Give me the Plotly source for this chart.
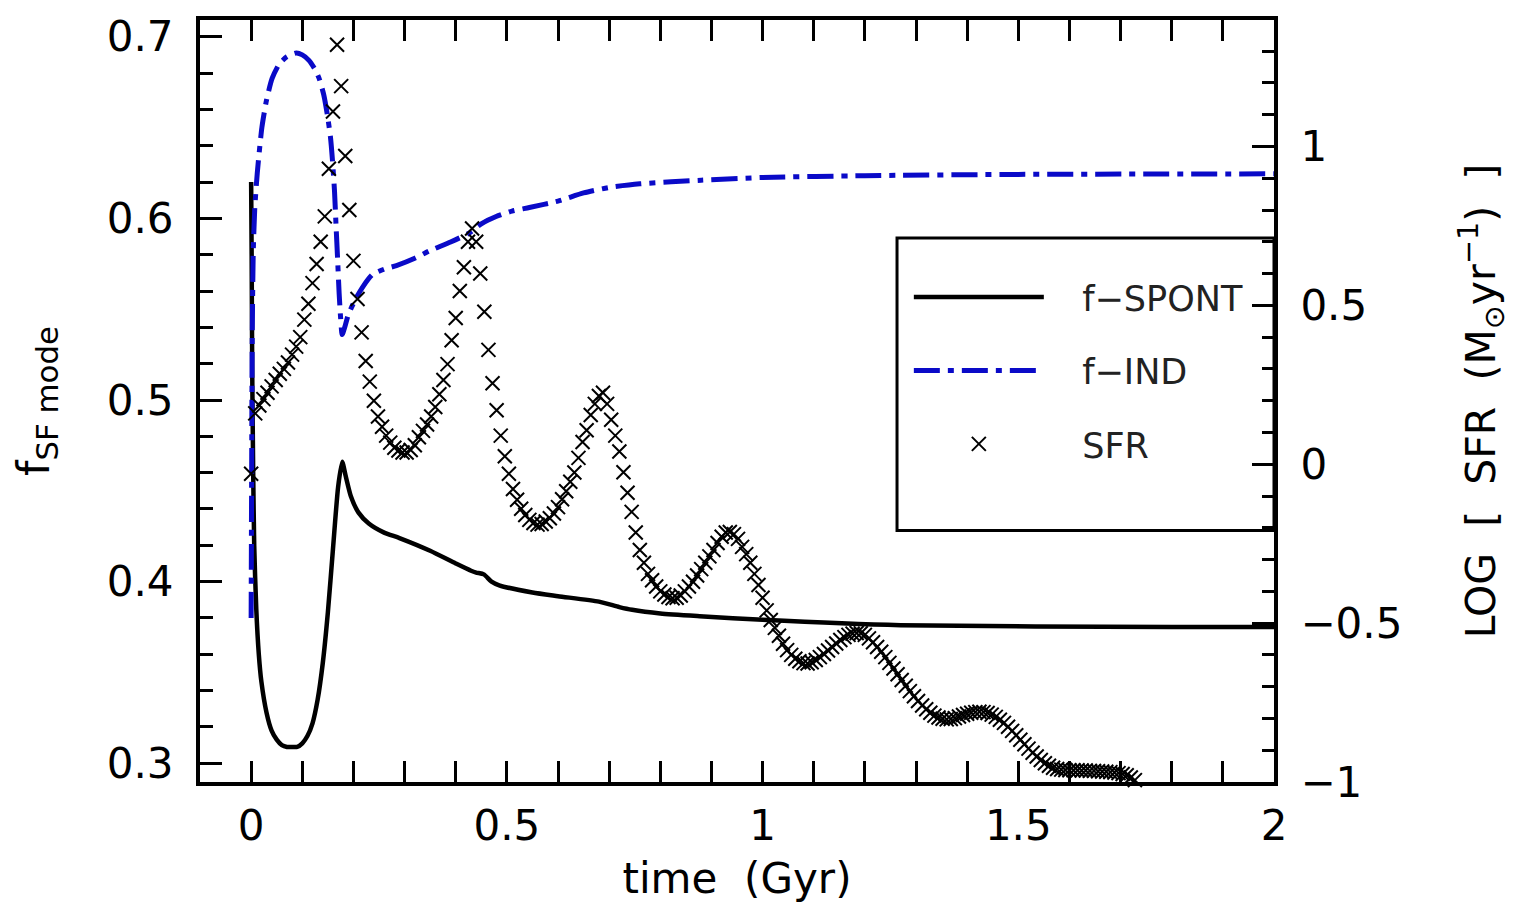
import plotly.graph_objects as go

# ---------------- data ----------------
spont_time = [0.000, 0.001, 0.002, 0.004, 0.006, 0.010, 0.015, 0.020, 0.030, 0.040,
              0.050, 0.060, 0.070, 0.080, 0.090, 0.100, 0.110, 0.120, 0.130, 0.140,
              0.150, 0.160, 0.170, 0.178, 0.185, 0.195, 0.210, 0.230, 0.260, 0.290,
              0.350, 0.400, 0.430, 0.440, 0.455, 0.470, 0.485, 0.550, 0.600, 0.680,
              0.720, 0.745, 0.800, 0.877, 1.000, 1.270, 1.800, 2.000]
spont_frac = [0.620, 0.580, 0.520, 0.460, 0.420, 0.385, 0.360, 0.345, 0.328, 0.318,
              0.313, 0.310, 0.309, 0.309, 0.309, 0.311, 0.315, 0.322, 0.335, 0.355,
              0.383, 0.418, 0.452, 0.466, 0.458, 0.447, 0.438, 0.432, 0.427, 0.424,
              0.417, 0.410, 0.406, 0.405, 0.404, 0.400, 0.398, 0.394, 0.392, 0.389,
              0.386, 0.3845, 0.3825, 0.381, 0.379, 0.376, 0.375, 0.375]

ind_time = [0.000, 0.001, 0.002, 0.004, 0.007, 0.012, 0.021, 0.030, 0.041, 0.055,
            0.070, 0.088, 0.100, 0.113, 0.125, 0.133, 0.142, 0.149, 0.155, 0.159,
            0.163, 0.166, 0.169, 0.172, 0.175, 0.178, 0.183, 0.190, 0.205, 0.220,
            0.237, 0.260, 0.284, 0.320, 0.348, 0.390, 0.427, 0.450, 0.479, 0.510,
            0.544, 0.600, 0.650, 0.700, 0.760, 0.880, 1.000, 1.200, 1.500, 2.000]
ind_frac = [0.380, 0.460, 0.530, 0.580, 0.605, 0.625, 0.650, 0.665, 0.677, 0.685,
            0.689, 0.691, 0.690, 0.687, 0.682, 0.677, 0.668, 0.657, 0.645, 0.632,
            0.615, 0.596, 0.578, 0.559, 0.545, 0.536, 0.540, 0.547, 0.556, 0.563,
            0.569, 0.572, 0.574, 0.578, 0.582, 0.587, 0.592, 0.597, 0.601, 0.604,
            0.606, 0.6095, 0.614, 0.617, 0.619, 0.621, 0.6225, 0.6235, 0.6242, 0.6245]

sfr_time = [
    0.000, 0.008, 0.016, 0.024, 0.032, 0.040, 0.048, 0.056, 0.064, 0.072,
    0.080, 0.088, 0.096, 0.104, 0.112, 0.120, 0.128, 0.136, 0.144, 0.152,
    0.160, 0.168, 0.176, 0.184, 0.192, 0.200, 0.208, 0.216, 0.224, 0.232,
    0.240, 0.248, 0.256, 0.264, 0.272, 0.280, 0.288, 0.296, 0.304, 0.312,
    0.320, 0.328, 0.336, 0.344, 0.352, 0.360, 0.368, 0.376, 0.384, 0.392,
    0.400, 0.408, 0.416, 0.424, 0.432, 0.440, 0.448, 0.456, 0.464, 0.472,
    0.480, 0.488, 0.496, 0.504, 0.512, 0.520, 0.528, 0.536, 0.544, 0.552,
    0.560, 0.568, 0.576, 0.584, 0.592, 0.600, 0.608, 0.616, 0.624, 0.632,
    0.640, 0.648, 0.656, 0.664, 0.672, 0.680, 0.688, 0.696, 0.704, 0.712,
    0.720, 0.728, 0.736, 0.744, 0.752, 0.760, 0.768, 0.776, 0.784, 0.792,
    0.800, 0.808, 0.816, 0.824, 0.832, 0.840, 0.848, 0.856, 0.864, 0.872,
    0.880, 0.888, 0.896, 0.904, 0.912, 0.920, 0.928, 0.936, 0.944, 0.952,
    0.960, 0.968, 0.976, 0.984, 0.992, 1.000, 1.008, 1.016, 1.024, 1.032,
    1.040, 1.048, 1.056, 1.064, 1.072, 1.080, 1.088, 1.096, 1.104, 1.112,
    1.120, 1.128, 1.136, 1.144, 1.152, 1.160, 1.168, 1.176, 1.184, 1.192,
    1.200, 1.208, 1.216, 1.224, 1.232, 1.240, 1.248, 1.256, 1.264, 1.272,
    1.280, 1.288, 1.296, 1.304, 1.312, 1.320, 1.328, 1.336, 1.344, 1.352,
    1.360, 1.368, 1.376, 1.384, 1.392, 1.400, 1.408, 1.416, 1.424, 1.432,
    1.440, 1.448, 1.456, 1.464, 1.472, 1.480, 1.488, 1.496, 1.504, 1.512,
    1.520, 1.528, 1.536, 1.544, 1.552, 1.560, 1.568, 1.576, 1.584, 1.592,
    1.600, 1.608, 1.616, 1.624, 1.632, 1.640, 1.648, 1.656, 1.664, 1.672,
    1.680, 1.688, 1.696, 1.704, 1.712, 1.720, 1.728, 1.736]
sfr_log = [
    -0.030, 0.160, 0.185, 0.205, 0.225, 0.245, 0.265, 0.285, 0.300, 0.320,
    0.345, 0.370, 0.400, 0.455, 0.505, 0.570, 0.630, 0.700, 0.780, 0.930,
    1.110, 1.320, 1.190, 0.970, 0.800, 0.640, 0.520, 0.415, 0.325, 0.260,
    0.200, 0.150, 0.118, 0.090, 0.068, 0.052, 0.043, 0.037, 0.037, 0.045,
    0.060, 0.085, 0.105, 0.125, 0.150, 0.180, 0.220, 0.265, 0.315, 0.390,
    0.460, 0.545, 0.620, 0.700, 0.742, 0.700, 0.600, 0.480, 0.360, 0.255,
    0.170, 0.090, 0.025, -0.030, -0.078, -0.112, -0.140, -0.160, -0.175, -0.185,
    -0.190, -0.188, -0.180, -0.170, -0.155, -0.135, -0.110, -0.085, -0.055, -0.026,
    0.020, 0.070, 0.107, 0.155, 0.190, 0.215, 0.225, 0.190, 0.140, 0.090,
    0.040, -0.025, -0.090, -0.150, -0.215, -0.270, -0.310, -0.345, -0.365, -0.385,
    -0.400, -0.410, -0.418, -0.422, -0.420, -0.413, -0.400, -0.385, -0.370, -0.350,
    -0.330, -0.310, -0.290, -0.270, -0.248, -0.228, -0.215, -0.213, -0.220, -0.235,
    -0.260, -0.283, -0.310, -0.345, -0.380, -0.420, -0.460, -0.490, -0.515, -0.540,
    -0.565, -0.585, -0.600, -0.612, -0.620, -0.626, -0.627, -0.623, -0.616, -0.607,
    -0.597, -0.586, -0.575, -0.564, -0.553, -0.544, -0.537, -0.533, -0.531, -0.532,
    -0.537, -0.548, -0.560, -0.575, -0.590, -0.607, -0.625, -0.643, -0.661, -0.679,
    -0.697, -0.714, -0.730, -0.745, -0.759, -0.771, -0.782, -0.791, -0.797, -0.801,
    -0.803, -0.802, -0.799, -0.794, -0.789, -0.785, -0.782, -0.780, -0.779, -0.780,
    -0.783, -0.788, -0.795, -0.804, -0.814, -0.826, -0.839, -0.853, -0.867, -0.881,
    -0.895, -0.908, -0.920, -0.931, -0.941, -0.949, -0.955, -0.959, -0.961, -0.962,
    -0.963, -0.963, -0.963, -0.964, -0.964, -0.965, -0.965, -0.966, -0.967, -0.968,
    -0.969, -0.970, -0.972, -0.975, -0.979, -0.986, -0.994, -1.004]

x_ticks = [0, 0.5, 1, 1.5, 2]
left_ticks = [0.3, 0.4, 0.5, 0.6, 0.7]
right_ticks = [-1, -0.5, 0, 0.5, 1]

# ---------------- figure ----------------
FONT = "DejaVu Sans, Liberation Sans, sans-serif"
BLUE = "#0a0ac8"
GAP = "\u00a0\u00a0\u00a0"

fig = go.Figure()
fig.add_trace(go.Scatter(
    x=spont_time, y=spont_frac, mode="lines", name=GAP + "f\u2212SPONT",
    legendgroup="a", line=dict(color="black", width=4.5, shape="spline", smoothing=0.6)))
fig.add_trace(go.Scatter(
    x=ind_time, y=ind_frac, mode="lines", name=GAP + "f\u2212IND",
    legendgroup="b", line=dict(color=BLUE, width=5, dash="26px,8px,6px,8px",
                               shape="spline", smoothing=0.6)))
fig.add_trace(go.Scatter(
    x=sfr_time, y=sfr_log, mode="markers", name=GAP + "SFR", yaxis="y2",
    legendgroup="c", cliponaxis=False,
    marker=dict(symbol="x-thin", size=14, color="black",
                line=dict(color="black", width=2))))

axis_common = dict(showline=True, linecolor="black", linewidth=4,
                   ticks="inside", tickcolor="black", tickwidth=3,
                   showgrid=False, zeroline=False,
                   tickfont=dict(family=FONT, size=42, color="black"))

fig.update_layout(
    width=1514, height=904,
    paper_bgcolor="white", plot_bgcolor="white",
    margin=dict(l=192, r=248, t=4, b=130),
    font=dict(family=FONT, color="black"),
    xaxis=dict(range=[-0.1, 2.0], tickvals=x_ticks, ticklen=21, mirror="allticks",
               ticklabelstandoff=4,
               minor=dict(dtick=0.1, ticklen=11, ticks="inside", tickwidth=3, tickcolor="black"),
               title=dict(text="time  (Gyr)", font=dict(family=FONT, size=42), standoff=15),
               **axis_common),
    yaxis=dict(range=[0.2897, 0.7092], tickvals=left_ticks, ticklen=22,
               ticklabelstandoff=14,
               minor=dict(dtick=0.02, ticklen=13, ticks="inside", tickwidth=3, tickcolor="black"),
               title=dict(text="f<sub>SF mode</sub>", font=dict(family=FONT, size=44), standoff=52),
               **axis_common),
    yaxis2=dict(range=[-1.0, 1.398], tickvals=right_ticks, ticklen=22, overlaying="y", side="right",
                ticklabelstandoff=14,
                minor=dict(dtick=0.1, ticklen=12, ticks="inside", tickwidth=3, tickcolor="black"),
                title=dict(text="LOG  [  SFR  (M<sub>\u2299</sub>yr<sup>\u22121</sup>)  ]",
                           font=dict(family=FONT, size=41), standoff=66),
                **axis_common),
    legend=dict(x=0.66, y=0.675, xanchor="left", yanchor="top",
                bgcolor="rgba(0,0,0,0)", borderwidth=0,
                font=dict(family=FONT, size=35, color="#222"),
                itemwidth=130, tracegroupgap=25, traceorder="grouped"),
    shapes=[dict(type="rect", xref="paper", yref="paper", x0=0.649, x1=1.0, y0=0.33, y1=0.714,
                 line=dict(color="black", width=3), fillcolor="white", layer="below")],
)

fig.write_html("out.html")
